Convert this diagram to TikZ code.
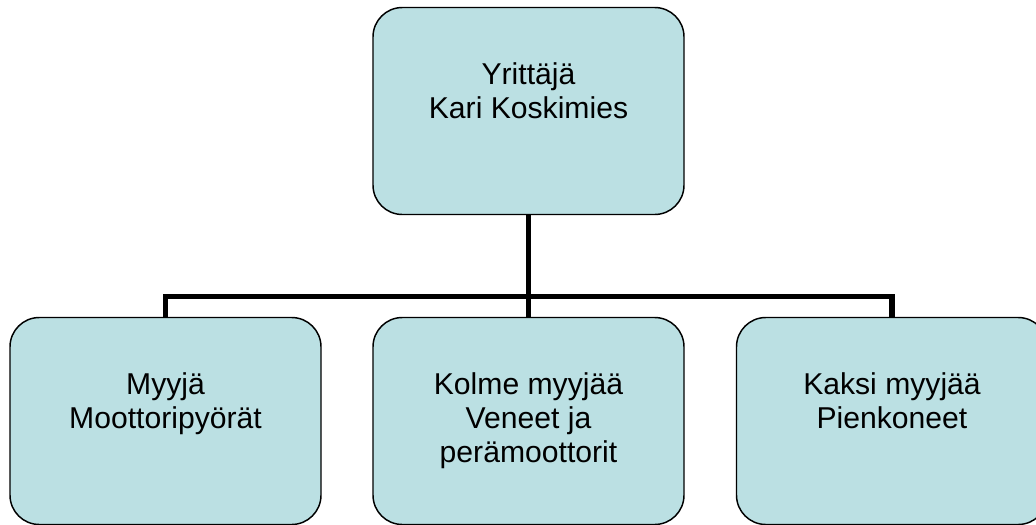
\documentclass[tikz,border=0pt]{standalone}
\usepackage{fontspec}
\setmainfont{Liberation Sans}
\definecolor{boxfill}{RGB}{187,224,227}
\tikzset{
  orgbox/.style={draw=black, line width=1.1pt, fill=boxfill, rounded corners=22pt,
    minimum width=311*0.75pt, minimum height=207*0.75pt, inner sep=0pt},
  orglabel/.style={anchor=north, align=center, inner sep=0pt,
    font=\fontsize{22.6}{25.5}\selectfont},
  conn/.style={draw=black, line width=3.8pt, line join=miter}
}
\begin{document}
\begin{tikzpicture}[x=0.75pt, y=-0.75pt]
  \useasboundingbox (0,0) rectangle (1036,525);
  \clip (0,0) rectangle (1036,525);

  % boxes
  \node[orgbox] (top)   at (528.5,111) {};
  \node[orgbox] (left)  at (165.5,421) {};
  \node[orgbox] (mid)   at (528.5,421) {};
  \node[orgbox] (right) at (892,421) {};

  % connectors
  \coordinate (bar) at (528.5,296.5);
  \draw[conn] (top.south) -- (bar);
  \draw[conn] (left.north) |- (bar) -| (right.north);
  \draw[conn] (mid.north) -- (bar);

  % labels
  \node[orglabel] (toplbl)   at ([yshift=-41.5pt]top.north)   {Yrittäjä\\Kari Koskimies};
  \node[orglabel] (leftlbl)  at ([yshift=-41.5pt]left.north)  {Myyjä\\Moottoripyörät};
  \node[orglabel] (midlbl)   at ([yshift=-41.5pt]mid.north)   {Kolme myyjää\\Veneet ja\\perämoottorit};
  \node[orglabel] (rightlbl) at ([yshift=-41.5pt]right.north) {Kaksi myyjää\\Pienkoneet};
\end{tikzpicture}
\end{document}
